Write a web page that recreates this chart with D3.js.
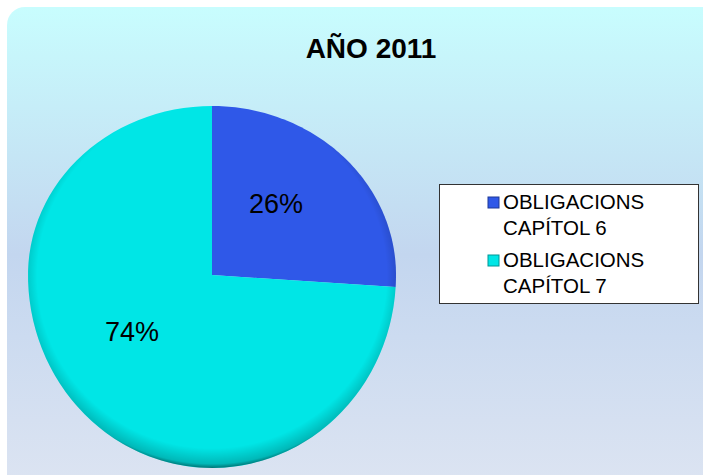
<!DOCTYPE html>
<html>
<head>
<meta charset="utf-8">
<script src="https://cdn.jsdelivr.net/npm/d3@7"></script>
<style>
  body { margin: 0; background: #fff; }
  text { font-family: Arial, "Liberation Sans", sans-serif; }
</style>
</head>
<body>
<svg width="703" height="475"></svg>
<script>
var svg = d3.select("svg"),
    W = +svg.attr("width"),
    H = +svg.attr("height");

// data
var titleText = "AÑO 2011";
var categories = ["OBLIGACIONS CAPÍTOL 6", "OBLIGACIONS CAPÍTOL 7"];
var legendLines = [["OBLIGACIONS", "CAPÍTOL 6"], ["OBLIGACIONS", "CAPÍTOL 7"]];
var values = [26, 74];
var colors = ["#2f58e8", "#00e6e6"];

var defs = svg.append("defs");

// background gradient
var bg = defs.append("linearGradient")
    .attr("id", "bgGrad")
    .attr("x1", "0%").attr("x2", "0%")
    .attr("y1", "0%").attr("y2", "100%");
bg.append("stop").attr("offset", "0%").attr("stop-color", "#c8fdfe");
bg.append("stop").attr("offset", "50%").attr("stop-color", "#c3d6ef");
bg.append("stop").attr("offset", "100%").attr("stop-color", "#dee5f2");

// rim shading for the pie
var rim = defs.append("radialGradient")
    .attr("id", "rimGrad")
    .attr("cx", "50%").attr("cy", "47%").attr("r", "54%");
rim.append("stop").attr("offset", "88%").attr("stop-color", "#000").attr("stop-opacity", 0);
rim.append("stop").attr("offset", "96%").attr("stop-color", "#000").attr("stop-opacity", 0.2);
rim.append("stop").attr("offset", "100%").attr("stop-color", "#000").attr("stop-opacity", 0.75);

svg.append("rect")
    .attr("x", 7).attr("y", 7)
    .attr("width", W + 20).attr("height", H + 20)
    .attr("rx", 18)
    .attr("fill", "url(#bgGrad)");

// title
svg.append("text")
    .attr("x", 371).attr("y", 58)
    .attr("text-anchor", "middle")
    .attr("font-size", 28)
    .attr("font-weight", "bold")
    .attr("fill", "#000")
    .text(titleText);

// pie (slightly tilted: shorter above the centre, taller below)
var cx = 212, cy = 275, rx = 184, rTop = 169, rBot = 193;
var pie = d3.pie().sort(null).value(function(d) { return d; });
var arcs = pie(values);

function project(a) {
  var x = Math.sin(a) * rx, y = -Math.cos(a);
  return [x, y < 0 ? y * rTop : y * rBot];
}
function slicePath(d) {
  var pts = [[0, 0]], n = 90;
  for (var k = 0; k <= n; k++) {
    pts.push(project(d.startAngle + (d.endAngle - d.startAngle) * k / n));
  }
  return d3.line()(pts) + "Z";
}

var g = svg.append("g")
    .attr("transform", "translate(" + cx + "," + cy + ")");

g.selectAll("path.slice")
    .data(arcs)
    .enter()
    .append("path")
    .attr("class", "slice")
    .attr("d", slicePath)
    .attr("fill", function(d, i) { return colors[i]; });

// edge shading, heavier toward the bottom
g.append("path")
    .attr("d", slicePath({startAngle: 0, endAngle: 2 * Math.PI}))
    .attr("fill", "url(#rimGrad)");

// percentage labels
var labelPos = [[64, -62], [-80, 66]];
g.selectAll("text.pct")
    .data(arcs)
    .enter()
    .append("text")
    .attr("class", "pct")
    .attr("x", function(d, i) { return labelPos[i][0]; })
    .attr("y", function(d, i) { return labelPos[i][1]; })
    .attr("text-anchor", "middle")
    .attr("font-size", 27)
    .attr("fill", "#000")
    .text(function(d) { return Math.round(d.data) + "%"; });

// legend
var legend = svg.append("g");
legend.append("rect")
    .attr("x", 439.5).attr("y", 184.5)
    .attr("width", 259).attr("height", 119)
    .attr("fill", "#fff")
    .attr("stroke", "#333")
    .attr("stroke-width", 1);

var items = legend.selectAll("g.item")
    .data(categories)
    .enter()
    .append("g")
    .attr("class", "item")
    .attr("transform", function(d, i) { return "translate(0," + (i * 58) + ")"; });

items.append("rect")
    .attr("x", 488).attr("y", 197)
    .attr("width", 11).attr("height", 11)
    .attr("fill", function(d, i) { return colors[i]; })
    .attr("stroke", function(d, i) { return d3.color(colors[i]).darker(1.2); })
    .attr("stroke-width", 1);

items.each(function(d, i) {
  var t = d3.select(this).append("text")
      .attr("x", 503).attr("y", 209)
      .attr("font-size", 20.5)
      .attr("fill", "#000");
  legendLines[i].forEach(function(line, k) {
    t.append("tspan").attr("x", 503).attr("dy", k === 0 ? 0 : 26).text(line);
  });
});
</script>
</body>
</html>
